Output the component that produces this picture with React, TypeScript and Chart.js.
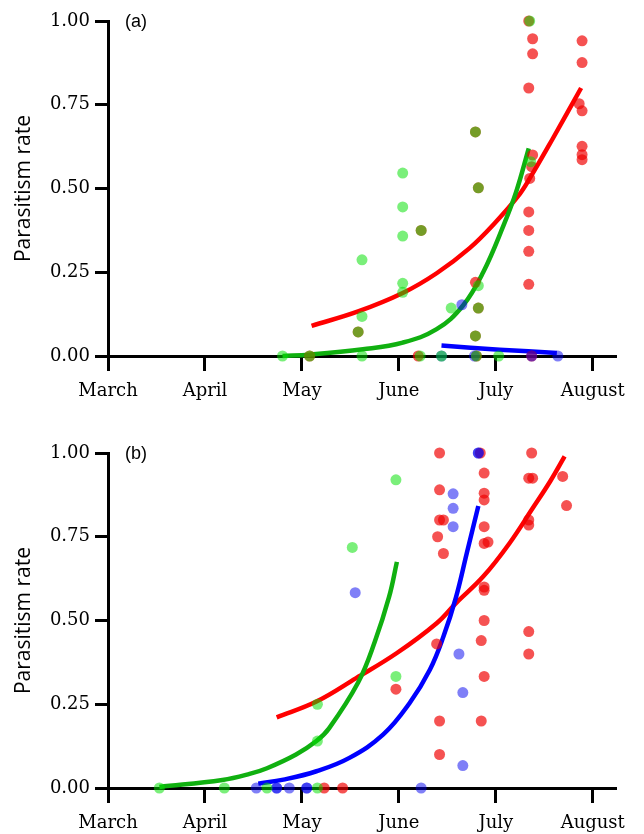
import React, { useEffect, useRef } from "react";
import { Chart, registerables } from "chart.js";

Chart.register(...registerables);

// ---------- axis labels ----------
const MONTHS = ["March", "April", "May", "June", "July", "August"];
const Y_TICKS = [0, 0.25, 0.5, 0.75, 1];
const Y_TITLE = "Parasitism rate";

// x values are months after 1 March (0 = March, 1 = April, ...)

// ---------- panel (a) points ----------
const A_RED_X = [4.34, 4.38, 4.38, 4.34, 4.38, 4.37, 4.35, 4.34, 4.34, 4.34, 4.34, 4.37, 3.2, 2.08, 4.89, 4.89, 4.86, 4.89, 4.89, 4.89, 4.89, 3.79, 3.82, 3.23, 3.79, 3.82, 3.79, 2.58, 3.8];
const A_RED_Y = [1.0, 0.947, 0.902, 0.8, 0.6, 0.565, 0.53, 0.43, 0.375, 0.3125, 0.214, 0, 0, 0, 0.941, 0.876, 0.753, 0.732, 0.626, 0.601, 0.586, 0.669, 0.502, 0.375, 0.22, 0.143, 0.06, 0.072, 0];
const A_GREEN_X = [4.35, 4.36, 3.79, 3.82, 3.23, 3.82, 3.82, 3.79, 2.58, 3.04, 3.04, 3.04, 3.04, 3.04, 2.62, 2.62, 3.54, 1.8, 2.08, 2.62, 3.22, 3.44, 3.8, 4.03];
const A_GREEN_Y = [1.0, 0.58, 0.669, 0.502, 0.375, 0.21, 0.143, 0.06, 0.072, 0.546, 0.445, 0.358, 0.217, 0.19, 0.287, 0.118, 0.143, 0, 0, 0, 0, 0, 0, 0];
const A_BLUE_X = [3.44, 3.78, 4.37, 4.64, 3.65];
const A_BLUE_Y = [0, 0, 0, 0, 0.153];

// panel (a) fitted curves
const A_RED_FIT_X = [2.1, 2.58, 3.04, 3.39, 3.73, 4.0, 4.23, 4.35, 4.59, 4.88];
const A_RED_FIT_Y = [0.09, 0.133, 0.188, 0.247, 0.322, 0.4, 0.477, 0.53, 0.65, 0.8];
const A_GREEN_FIT_X = [1.8, 2.08, 2.63, 3.04, 3.39, 3.66, 3.87, 4.08, 4.21, 4.34];
const A_GREEN_FIT_Y = [0.0, 0.004, 0.02, 0.04, 0.08, 0.15, 0.25, 0.39, 0.49, 0.62];
const A_BLUE_FIT_X = [3.44, 4.04, 4.63];
const A_BLUE_FIT_Y = [0.031, 0.019, 0.009];

// ---------- panel (b) points ----------
const B_RED_X = [3.42, 3.42, 3.42, 3.46, 3.4, 3.46, 3.39, 3.42, 3.42, 3.84, 3.88, 3.88, 3.88, 3.88, 3.88, 3.92, 3.88, 3.88, 3.88, 3.85, 3.88, 3.85, 4.37, 4.34, 4.38, 4.34, 4.34, 4.34, 4.34, 4.69, 4.73, 2.97, 2.23, 2.42];
const B_RED_Y = [1.0, 0.89, 0.8, 0.8, 0.75, 0.7, 0.43, 0.2, 0.1, 1.0, 0.94, 0.88, 0.86, 0.78, 0.73, 0.734, 0.6, 0.59, 0.5, 0.44, 0.333, 0.2, 1.0, 0.925, 0.925, 0.8, 0.785, 0.467, 0.4, 0.93, 0.843, 0.295, 0, 0];
const B_BLUE_X = [3.56, 3.56, 3.56, 3.62, 3.66, 3.66, 2.55, 3.82, 3.82, 3.23, 1.53, 1.74, 1.74, 1.87, 2.05, 2.05];
const B_BLUE_Y = [0.878, 0.835, 0.78, 0.4, 0.285, 0.067, 0.583, 1.0, 1.0, 0, 0, 0, 0, 0, 0, 0];
const B_GREEN_X = [2.97, 2.52, 2.97, 2.16, 2.16, 0.53, 1.2, 1.64, 2.16];
const B_GREEN_Y = [0.92, 0.718, 0.333, 0.25, 0.14, 0, 0, 0, 0];

// panel (b) fitted curves
const B_RED_FIT_X = [1.74, 2.15, 2.56, 2.98, 3.39, 3.59, 3.87, 4.14, 4.38, 4.56, 4.71];
const B_RED_FIT_Y = [0.211, 0.258, 0.328, 0.403, 0.492, 0.552, 0.631, 0.73, 0.835, 0.915, 0.99];
const B_GREEN_FIT_X = [0.53, 1.18, 1.46, 1.64, 1.94, 2.15, 2.28, 2.58, 2.75, 2.9, 2.98];
const B_GREEN_FIT_Y = [0.003, 0.024, 0.042, 0.059, 0.1, 0.14, 0.178, 0.315, 0.435, 0.571, 0.675];
const B_BLUE_FIT_X = [1.55, 1.81, 2.15, 2.49, 2.84, 3.11, 3.32, 3.46, 3.59, 3.7, 3.82];
const B_BLUE_FIT_Y = [0.013, 0.025, 0.05, 0.09, 0.16, 0.253, 0.353, 0.452, 0.57, 0.7, 0.842];

// ---------- styling ----------
const RED_PT = "rgba(240,0,0,0.68)";
const GREEN_PT = "rgba(0,225,0,0.52)";
const BLUE_PT = "rgba(0,0,240,0.5)";
const RED_LINE = "#ff0000";
const GREEN_LINE = "#10b010";
const BLUE_LINE = "#0000ff";

const W = 644;
const AXIS_X = 108;
const PLOT_TOP = 21;
const PLOT_BOTTOM = 356;
const PLOT_RIGHT = 616;

function pts(xs: number[], ys: number[]) {
  return xs.map((x, i) => ({ x, y: ys[i] }));
}

function pointSet(xs: number[], ys: number[], color: string, order: number) {
  return {
    data: pts(xs, ys),
    backgroundColor: color,
    borderWidth: 0,
    pointRadius: 5.5,
    pointHoverRadius: 5.5,
    showLine: false,
    clip: false as const,
    order,
  };
}

function lineSet(xs: number[], ys: number[], color: string, order: number) {
  return {
    data: pts(xs, ys),
    borderColor: color,
    backgroundColor: color,
    borderWidth: 4.5,
    pointRadius: 0,
    showLine: true,
    tension: 0.4,
    fill: false,
    clip: false as const,
    borderCapStyle: "butt" as const,
    order,
  };
}

interface PanelProps {
  height: number;
  label: string;
  datasets: any[];
}

function Panel({ height, label, datasets }: PanelProps) {
  const ref = useRef<HTMLCanvasElement | null>(null);
  useEffect(() => {
    if (!ref.current) return;
    const labelPlugin = {
      id: "panelLabel",
      afterDraw(chart: any) {
        const ctx = chart.ctx;
        ctx.save();
        ctx.fillStyle = "#000";
        ctx.font = "18px 'Liberation Sans', Arial, sans-serif";
        ctx.textAlign = "left";
        ctx.textBaseline = "middle";
        ctx.fillText(label, chart.chartArea.left + 17, chart.chartArea.top + 1);
        ctx.restore();
      },
    };
    const tickFont = { family: "'DejaVu Serif', serif", size: 18 };
    const chart = new Chart(ref.current, {
      type: "scatter",
      data: { datasets },
      plugins: [labelPlugin],
      options: {
        animation: false,
        responsive: false,
        devicePixelRatio: 1,
        events: [],
        layout: { padding: { top: PLOT_TOP, right: W - PLOT_RIGHT, left: 0, bottom: 0 } },
        plugins: { legend: { display: false }, tooltip: { enabled: false }, title: { display: false } },
        scales: {
          x: {
            type: "linear",
            min: 0,
            max: 5.24,
            afterBuildTicks: (s: any) => {
              s.ticks = MONTHS.map((_, i) => ({ value: i }));
            },
            afterFit: (s: any) => {
              s.height = height - PLOT_BOTTOM;
            },
            ticks: {
              autoSkip: false,
              maxRotation: 0,
              minRotation: 0,
              padding: 10,
              color: "#000",
              font: tickFont,
              callback: (v: any) => MONTHS[Math.round(Number(v))] ?? "",
            },
            grid: {
              display: true,
              drawOnChartArea: false,
              drawTicks: true,
              tickLength: 15,
              tickWidth: 3,
              tickColor: "#000",
              color: "#000",
            },
            border: { display: true, color: "#000", width: 3 },
          },
          y: {
            type: "linear",
            min: 0,
            max: 1,
            afterBuildTicks: (s: any) => {
              s.ticks = Y_TICKS.map((v) => ({ value: v }));
            },
            afterFit: (s: any) => {
              s.width = AXIS_X;
            },
            ticks: {
              padding: 5,
              color: "#000",
              font: tickFont,
              callback: (v: any) => Number(v).toFixed(2),
            },
            grid: {
              display: true,
              drawOnChartArea: false,
              drawTicks: true,
              tickLength: 13,
              tickWidth: 3,
              tickColor: "#000",
              color: "#000",
            },
            border: { display: true, color: "#000", width: 3 },
            title: {
              display: true,
              text: Y_TITLE,
              color: "#000",
              font: { family: "'Open Sans', sans-serif", size: 21 },
              padding: { top: 11, bottom: 0 },
            },
          },
        },
      } as any,
    });
    return () => chart.destroy();
  }, [height, label, datasets]);
  return <canvas ref={ref} width={W} height={height} style={{ display: "block", width: W, height }} />;
}

const A_DATASETS = [
  pointSet(A_GREEN_X, A_GREEN_Y, GREEN_PT, 0),
  pointSet(A_BLUE_X, A_BLUE_Y, BLUE_PT, 1),
  pointSet(A_RED_X, A_RED_Y, RED_PT, 2),
  lineSet(A_BLUE_FIT_X, A_BLUE_FIT_Y, BLUE_LINE, 3),
  lineSet(A_GREEN_FIT_X, A_GREEN_FIT_Y, GREEN_LINE, 4),
  lineSet(A_RED_FIT_X, A_RED_FIT_Y, RED_LINE, 5),
];

const B_DATASETS = [
  pointSet(B_GREEN_X, B_GREEN_Y, GREEN_PT, 0),
  pointSet(B_BLUE_X, B_BLUE_Y, BLUE_PT, 1),
  pointSet(B_RED_X, B_RED_Y, RED_PT, 2),
  lineSet(B_BLUE_FIT_X, B_BLUE_FIT_Y, BLUE_LINE, 3),
  lineSet(B_GREEN_FIT_X, B_GREEN_FIT_Y, GREEN_LINE, 4),
  lineSet(B_RED_FIT_X, B_RED_FIT_Y, RED_LINE, 5),
];

export default function App() {
  return (
    <div style={{ position: "fixed", left: 0, top: 0, width: W, height: 834, background: "#fff", overflow: "hidden" }}>
      <Panel height={432} label="(a)" datasets={A_DATASETS} />
      <Panel height={402} label="(b)" datasets={B_DATASETS} />
    </div>
  );
}
